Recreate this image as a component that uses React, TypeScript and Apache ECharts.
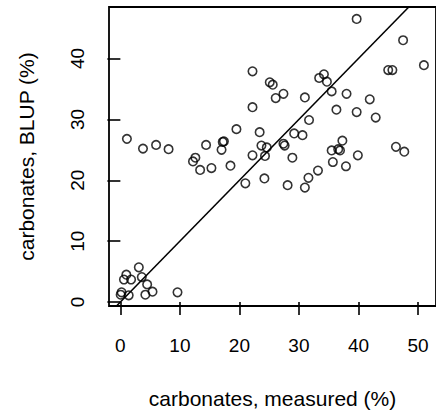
import React, { useEffect, useRef } from "react";
import * as echarts from "echarts";

// measured carbonates (%) and BLUP carbonates (%)
const measured: number[] = [
  39.7, 47.5, 51.0, 45.0, 45.7, 22.2, 25.1, 25.6, 33.4, 34.2, 34.7, 35.5, 27.4, 26.1, 31.0, 38.0,
  41.9, 22.2, 36.3, 39.7, 42.9, 31.7, 19.5, 23.4, 29.2, 30.6, 37.3, 1.1, 3.8, 6.0, 8.1, 14.4,
  17.2, 17.4, 17.0, 23.7, 24.6, 27.4, 27.6, 12.6, 12.2, 13.4, 15.3, 18.5, 22.2, 24.3, 28.9, 21.0,
  24.2, 28.1, 33.2, 31.6, 31.0, 35.5, 36.6, 36.9, 35.7, 37.9, 39.9, 46.3, 47.7,
  3.1, 1.0, 0.6, 1.8, 3.6, 4.5, 0.2, 0.05, 1.4, 4.2, 5.4, 9.6,
];
const blup: number[] = [
  46.5, 43.0, 38.9, 38.1, 38.1, 37.9, 36.1, 35.7, 36.8, 37.4, 36.2, 34.6, 34.2, 33.5, 33.6, 34.2,
  33.3, 32.0, 31.6, 31.2, 30.3, 29.9, 28.4, 27.9, 27.7, 27.4, 26.5, 26.8, 25.2, 25.8, 25.1, 25.8,
  26.3, 26.4, 25.0, 25.7, 25.4, 26.0, 25.7, 23.7, 23.1, 21.7, 22.0, 22.4, 24.1, 24.0, 23.7, 19.5,
  20.3, 19.2, 21.6, 20.4, 18.8, 24.9, 25.1, 24.9, 23.0, 22.3, 24.1, 25.5, 24.7,
  5.7, 4.5, 3.7, 3.7, 4.1, 2.9, 1.6, 1.2, 1.1, 1.2, 1.7, 1.6,
];
const xTicks: number[] = [0, 10, 20, 30, 40, 50];
const yTicks: number[] = [0, 10, 20, 30, 40];
const xLimits: number[] = [-1.91, 53.03];
const yLimits: number[] = [-0.65, 48.46];

const FONT = "Liberation Sans, Arial, Helvetica, sans-serif";

export default function App() {
  const ref = useRef<HTMLDivElement>(null);
  useEffect(() => {
    if (!ref.current) return;
    const chart = echarts.init(ref.current, undefined, { renderer: "svg" });
    const points = measured.map((m, i) => [m, blup[i]]);
    const lo = Math.min(xLimits[0], yLimits[0]) - 5;
    const hi = Math.max(xLimits[1], yLimits[1]) + 5;
    chart.setOption({
      animation: false,
      backgroundColor: "#ffffff",
      grid: {
        left: 109,
        top: 7,
        width: 328,
        height: 303,
        show: true,
        borderColor: "#000000",
        borderWidth: 1.8,
        backgroundColor: "transparent",
      },
      xAxis: {
        type: "value",
        min: xLimits[0],
        max: xLimits[1],
        name: "carbonates, measured (%)",
        nameLocation: "middle",
        nameGap: 82,
        nameTextStyle: { fontFamily: FONT, fontSize: 21, color: "#000" },
        axisLine: { show: false },
        splitLine: { show: false },
        axisTick: {
          show: true,
          length: 13,
          customValues: xTicks,
          lineStyle: { color: "#000", width: 1.6 },
        },
        axisLabel: {
          customValues: xTicks,
          margin: 30,
          fontFamily: FONT,
          fontSize: 19,
          color: "#000",
        },
      },
      yAxis: {
        type: "value",
        min: yLimits[0],
        max: yLimits[1],
        name: "carbonates, BLUP (%)",
        nameLocation: "middle",
        nameGap: 72,
        nameTextStyle: { fontFamily: FONT, fontSize: 21, color: "#000" },
        axisLine: { show: false },
        splitLine: { show: false },
        axisTick: {
          show: true,
          length: 13,
          customValues: yTicks,
          lineStyle: { color: "#000", width: 1.6 },
        },
        axisLabel: {
          customValues: yTicks,
          rotate: 90,
          margin: 22,
          fontFamily: FONT,
          fontSize: 19,
          color: "#000",
        },
      },
      series: [
        {
          type: "line",
          data: [
            [lo, lo],
            [hi, hi],
          ],
          showSymbol: false,
          symbol: "none",
          clip: true,
          lineStyle: { color: "#000", width: 1.5 },
          silent: true,
        },
        {
          type: "scatter",
          data: points,
          symbol: "circle",
          symbolSize: 8.5,
          itemStyle: { color: "transparent", borderColor: "#000", borderWidth: 1.6 },
        },
      ],
    });
    return () => chart.dispose();
  }, []);
  return (
    <div
      ref={ref}
      style={{ position: "absolute", left: 0, top: 0, width: 436, height: 414 }}
    />
  );
}
